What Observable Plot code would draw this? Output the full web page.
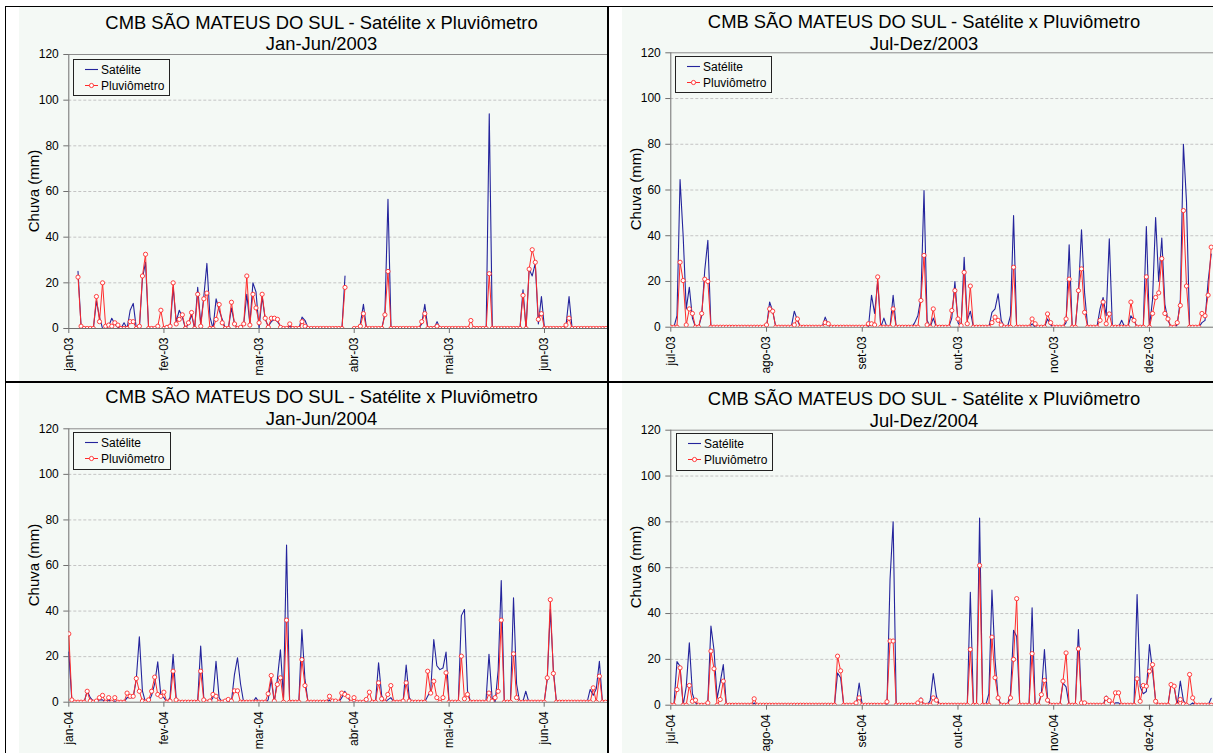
<!DOCTYPE html>
<html><head><meta charset="utf-8">
<script src="https://cdn.jsdelivr.net/npm/d3@7"></script>
<script src="https://cdn.jsdelivr.net/npm/@observablehq/plot@0.6"></script>
<style>
body{margin:0;background:#fff;font-family:Arial,"Liberation Sans",sans-serif;color:#000}
#root{position:relative;width:1213px;height:753px;overflow:hidden;background:#fff}
.area{position:absolute;background:#f4f9f5}
.plot{position:absolute}
.t{position:absolute;white-space:nowrap;font-size:18.4px;line-height:18.4px;transform:translateX(-50%)}
.yl{position:absolute;font-size:15px;line-height:15px;white-space:nowrap;transform:translate(-50%,-50%) rotate(-90deg)}
.leg{position:absolute;border:1px solid #222;box-sizing:border-box;font-size:12px}
.leg .txt{position:absolute;left:27px;line-height:14px;white-space:nowrap}
.leg svg{position:absolute;left:0;top:0}
.bl{position:absolute;background:#000}
</style></head>
<body><div id="root"></div>
<script>
const titleMain = "CMB SÃO MATEUS DO SUL - Satélite x Pluviômetro";
const seriesNames = ["Satélite", "Pluviômetro"];
const yLabel = "Chuva (mm)";
const yTicks = [0, 20, 40, 60, 80, 100, 120];

// ---- Jan-Jun/2003 (daily, index 0 = 1 jan) ----
const sub03a = "Jan-Jun/2003";
const ticks03a = ["jan-03","fev-03","mar-03","abr-03","mai-03","jun-03"];
const sat03a = [
 null,null,null,25,1,0,0,0,0,12,
 5,0,0,1,4.5,2,0.5,0,2.5,0,
 8,11,0,0,22,29,0,0,0,0,
 0,0,0,0,18,3,8,5,0,2,
 6,0,18,2,14,28.5,5,0,13,8,
 4,0,0,9,2,0,0,2,15,2,
 20,16,0,14,4,1,3,4,3,1,
 0,0,1,0,0,0,5,3.5,0,0,
 0,0,0,0,0,0,0,0,0,0,
 23,null,null,0,0,2,10.6,0,0,0,
 0,0,0,6.5,56.6,0,0,0,0,0,
 0,0,0,0,0,2,10.6,0,0,0,
 3,0,0,0,0,0,0,0,0,0,
 0,0,0,0,0,0,0,94,0,0,
 0,0,0,0,0,0,0,0,17,0,
 26,23,28.5,2,14,0,0,0,0,0,
 0,0,1,14,0,0,0,0,0,0,
 0,0,0,0,0,0];
const pluv03a = [
 null,null,null,22.5,1,0,0,0,0,14,
 3,20,1,1.5,1,2.5,1.5,0,0,0,
 3,3,0,1,23,32.5,0,0,0,1,
 8,0,0.5,1,20,2,4,6,0,2.5,
 7,0,15,1,13,15.5,0,0,4,10.5,
 2.5,0,0,11.5,2,0,0.5,2,23,1.5,
 15,9,2.5,15,4.5,0.5,4.5,4.5,4,0.5,
 0,0,2,0,0,0,3,1,0,0,
 0,0,0,0,0,0,0,0,0,0,
 18,null,null,0,0,1,6.5,0,0,0,
 0,0,0,6,25,0,0,0,0,0,
 0,0,0,0,0,3,6.5,0,0,0,
 1,0,0,0,0,0,0,0,0,0,
 0,3.5,0,0,0,0,0,24,0,0,
 0,0,0,0,0,0,0,0,14.5,0,
 26,34.5,29,4,6.5,0,0,0,0,0,
 0,0,1.5,4.5,0,0,0,0,0,0,
 0,0,0,0,0,0];

// ---- Jul-Dez/2003 ----
const sub03b = "Jul-Dez/2003";
const ticks03b = ["jul-03","ago-03","set-03","out-03","nov-03","dez-03"];
const sat03b = [
 0,0,5,64.6,40,8,17.5,4,0,0,
 5,25,38,0,0,0,0,0,0,0,
 0,0,0,0,0,0,0,0,0,0,
 0,0,11,7,0,0,0,0,0,0,
 7,3,0,0,0,0,0,0,0,0,
 4.4,1,0,0,0,0,0,0,0,0,
 0,0,0,0,0,14,6,20,0,4,
 0,0,14,0,0,0,0,0,0,2,
 5,13,59.8,3,0,4,0,0,0,0,
 0,4,20,2,0,30.6,3,7,0,0,
 0,0,0,0,6.5,8,14.6,3,0,0,
 5,48.8,0,0,0,0,0,1.5,0,0,
 0,0,3.6,1,0,0,0,0,2,36,
 0,0,15,42.6,15,0,0,0,0,8,
 13,5,38.7,0,0,0,3,0,0,5,
 3,0,0,0,44,0,12,48,20,39,
 10,3,0,0,1,12,80,55,0,0,
 0,0,2,3,20,32];
const pluv03b = [
 0,0,0,28.4,20.4,1,8,6,0,0,
 6,21,20,0,0,0,0,0,0,0,
 0,0,0,0,0,0,0,0,0,0,
 0,1,8,7,0,0,0,0,0,0,
 1,3.6,0,0,0,0,0,0,0,0,
 2,1.5,0,0,0,0,0,0,0,0,
 0,0,0,0,1.5,1.5,1,22,0,0,
 0,0,8,0,0,0,0,0,0,0,
 0,11.7,31.4,1,0,8,0,0,0,0,
 0,7.3,16,3.6,0.7,24,1.5,18,0,0,
 0,0,0,0,2,4.4,3,1,0,0,
 0,26.2,0,0,0,0,0,3.6,1.5,0,
 0,0,5.8,2,0,0,0,0,3.6,21,
 0,0,16,25.5,6.5,0,0,0,0,3,
 11,1.5,5.8,0,0,0,0,0,0,11,
 3,0,0,0,22,0,6,13,15,30,
 6,3.6,0,0,2,9.5,51,18,0,0,
 0,0,6,5,14,35];

// ---- Jan-Jun/2004 ----
const sub04a = "Jan-Jun/2004";
const ticks04a = ["jan-04","fev-04","mar-04","abr-04","mai-04","jun-04"];
const sat04a = [
 22,0.5,0,0,0,0,5,2,0.5,0,
 1,1,0,1,0,0.5,0,0,0,2,
 2,2,10,28.7,5,0,0,3,8,17.7,
 3,2,0,2,21,2,0,0,0,0,
 0,0,0,24.6,2,0,0,2,18,2,
 0,0,0.5,0,12,19.5,8,0,0,0,
 0,2,0,0,0,1,10,0,10,23,
 2,69,0,0,0,0,31.9,10,0,0,
 0,0,0,0,0,1,0,0,0,2,
 4.8,2,0,0,0,0,0,0,0,0,
 0,17.3,3,0,1,2,0,0,0,0,
 16.3,2,0,0,0,0,0,2.6,5,27.5,
 16,14.3,15,22,0,0,0,0,38,40.7,
 5,0,0,0,0,0,0,21,2,0,
 14,53.4,0,0,0,45.8,8,0,0,4.8,
 0,0,0,0,0,0,10,40.7,14,0,
 0,0,0,0,0,0,0,0,0,0,
 5.6,3,6,18,0,0];
const pluv04a = [
 30,1,0,0,0,0,4.8,0.5,0,0.5,
 2,3,0,2,0,2,0,0,0,4,
 2.6,2.6,10.4,4.8,0.5,0,1,4.8,11,3.4,
 2.6,4.4,0,0.5,13.6,1,0,0,0,0,
 0,0,0,13.6,1,0,0.5,3.4,2.6,0,
 0,0.5,1.2,0.5,5,5,0,0,0,0,
 0,0,0,0,0,3.7,11.7,0.5,7.8,10.7,
 0,36,0,0,0,0,18.7,7.3,0,0,
 0,0,0,0,0,2.6,0.5,0.5,0,4,
 3.4,2.6,0,2,0,0,0,1.2,4.4,0,
 0,8.5,1.5,0,3.4,7.3,0,0,0,0.5,
 8.5,0.5,0,0,0,0,0,13.6,4,9.2,
 2,0,2,12.9,0,0,0,0,20.2,1.5,
 3.4,0,0,0,0,0,0,4,0.5,2,
 4.8,36,0,0,0,21.2,2,0,0,0,
 0,0,0,0,0,0,10.7,45,12.6,0,
 0,0,0,0,0,0,0,0,0,0,
 0,6.3,0,11.4,0,0];

// ---- Jul-Dez/2004 ----
const sub04b = "Jul-Dez/2004";
const ticks04b = ["jul-04","ago-04","set-04","out-04","nov-04","dez-04"];
const sat04b = [
 0,0,19,17,0,8,27.2,5,1,0,
 0,0,2,34.5,24,3,10,17.7,0,0,
 0,0,0,0,0,0,0,1,0,0,
 0,0,0,0,0,0,0,0,0,0,
 0,0,0,0,0,0,0,0,0,0,
 0,0,0,0,14,12,0,0,0,0,
 0,9.7,0,0,0,0,0,0,0,0,
 0,55,80,0,0,0,0,0,0,0,
 0,3.2,0,0,2,13.8,4,0,0,0,
 0,0,0,0,0,0,0,49.3,0,0,
 81.7,0,0,5,50.2,20,3,0,0,0,
 5,32.7,30,0,0,0,0,42.5,0,0,
 5,24.3,3,0,0,0,0,9.7,8,0,
 0,0,33,0,0,0,0,0,0,0,
 0,4,2,0,1,1,0,0,0,0,
 0,48.3,8,5,6,26.5,15,2,0,0,
 0,0,9.3,8,0,10.5,2,0,0,1,
 0,0,0,0,0,3];
const pluv04b = [
 0,0,6.8,16.3,0,0,8.6,1.7,2.2,0,
 0,0,1,23.6,15.9,0,2.5,10.5,0,0,
 0,0,0,0,0,0,0,2.8,0,0,
 0,0,0,0,0,0,0,0,0,0,
 0,0,0,0,0,0,0,0,0,0,
 0,0,0,0,21.4,15,0,0,0,0,
 1,3.2,0,0,0,0,0,0,0,0,
 1.5,28,28,0,0,0,0,0,0,0,
 1,2.2,0,0,0,3.2,2.2,0,0,0,
 0,0,0,0,0,0,0,24.3,0,0,
 61,0,0,0,29.7,12,3.2,0,0,0,
 3.2,20,46.5,0,0,0,0,22.5,0,0,
 4.6,10.8,2.2,0,0,0,0,10.5,22.8,0,
 0,0,24.6,1,1,0,0,0,0,0,
 0,3,2,0.5,5.4,5.4,0,0,0,0,
 0,11.5,1.7,8.6,8.3,14.8,17.7,1.7,0,0,
 0,0,9,8.3,0,2.5,0.5,0,13.4,3.2,
 0,0,0,0,0,0];

const BLUE = "#24249c", RED = "#ff2b2b";
const TICK_EVERY = 31; // Excel category-axis label interval (days)

const panels = [
  {sat: sat03a, pluv: pluv03a, ticks: ticks03a, sub: sub03a,
   L: {left:19, top:7, w:588, h:374, ml:49.3, mt:47, mb:53, ppd:3.069, tx:321.5, t1:14, t2:35, leg:[73,59,97,37], yl:[33,191]}},
  {sat: sat03b, pluv: pluv03b, ticks: ticks03b, sub: sub03b,
   L: {left:622, top:7, w:591, h:374, ml:48.3, mt:45.3, mb:54.3, ppd:3.088, tx:924, t1:12.8, t2:35, leg:[675,56,97,37], yl:[634.5,189]}},
  {sat: sat04a, pluv: pluv04a, ticks: ticks04a, sub: sub04a,
   L: {left:19, top:383, w:588, h:370, ml:49.3, mt:45.3, mb:51.3, ppd:3.067, tx:321.5, t1:388, t2:410, leg:[73,432,98,38], yl:[33,565]}},
  {sat: sat04b, pluv: pluv04b, ticks: ticks04b, sub: sub04b,
   L: {left:622, top:383, w:591, h:370, ml:48.3, mt:46.7, mb:48.3, ppd:3.088, tx:924, t1:390, t2:412, leg:[676,433,97,38], yl:[635,567]}}
];

const root = document.getElementById("root");
function el(cls, css, text) {
  const d = document.createElement("div");
  d.className = cls;
  for (const k in css) d.style[k] = typeof css[k] === "number" ? css[k] + "px" : css[k];
  if (text != null) d.textContent = text;
  root.appendChild(d);
  return d;
}

for (const p of panels) {
  const L = p.L;
  el("area", {left: L.left, top: L.top, width: L.w, height: L.h});
  const rows = p.sat.map((s, i) => ({i, sat: s, pluv: p.pluv[i]}));
  const xMax = (L.w - L.ml) / L.ppd;
  const tickPos = p.ticks.map((_, k) => k * TICK_EVERY);
  const chart = Plot.plot({
    width: L.w, height: L.h,
    marginLeft: L.ml, marginRight: 0, marginTop: L.mt, marginBottom: L.mb,
    style: {background: "transparent", fontFamily: 'Arial, "Liberation Sans", sans-serif', fontSize: "12px", color: "#000", overflow: "visible"},
    x: {domain: [0, xMax]},
    y: {domain: [0, 120]},
    marks: [
      Plot.ruleY([20, 40, 60, 80, 100], {stroke: "#c4c4c4", strokeDasharray: "3,2"}),
      Plot.ruleY([120], {stroke: "#8c8c8c"}),
      Plot.axisY({ticks: yTicks, tickSize: 5, tickPadding: 5, stroke: "#707070", fill: "#000", fontSize: 12, label: null}),
      Plot.axisX({ticks: tickPos, tickFormat: d => p.ticks[Math.round(d / TICK_EVERY)], tickRotate: -90, tickSize: 5, tickPadding: 4, stroke: "#707070", fill: "#000", fontSize: 12, label: null}),
      Plot.ruleX([0], {stroke: "#707070"}),
      Plot.ruleY([0], {stroke: "#707070"}),
      Plot.line(rows, {x: "i", y: "sat", stroke: BLUE, strokeWidth: 1.1, clip: true}),
      Plot.line(rows, {x: "i", y: "pluv", stroke: RED, strokeWidth: 1, clip: true}),
      Plot.dot(rows, {x: "i", y: "pluv", r: 2.1, stroke: RED, strokeWidth: 0.9, fill: "white", clip: true})
    ]
  });
  chart.classList.add("plot");
  chart.style.left = L.left + "px";
  chart.style.top = L.top + "px";
  root.appendChild(chart);

  el("t", {left: L.tx, top: L.t1}, titleMain);
  el("t", {left: L.tx, top: L.t2}, p.sub);
  el("yl", {left: L.yl[0], top: L.yl[1]}, yLabel);

  const leg = el("leg", {left: L.leg[0], top: L.leg[1], width: L.leg[2], height: L.leg[3]});
  const ns = "http://www.w3.org/2000/svg";
  const sw = document.createElementNS(ns, "svg");
  sw.setAttribute("width", 27); sw.setAttribute("height", L.leg[3]);
  sw.innerHTML = `<line x1="11" x2="24" y1="9.5" y2="9.5" stroke="${BLUE}" stroke-width="1.1"/>
    <line x1="11" x2="24" y1="25.5" y2="25.5" stroke="${RED}" stroke-width="1"/>
    <circle cx="17.5" cy="25.5" r="2.1" fill="white" stroke="${RED}" stroke-width="0.9"/>`;
  leg.appendChild(sw);
  const a = document.createElement("div"); a.className = "txt"; a.style.top = "2.5px"; a.textContent = seriesNames[0]; leg.appendChild(a);
  const b = document.createElement("div"); b.className = "txt"; b.style.top = "19px"; b.textContent = seriesNames[1]; leg.appendChild(b);
}

// panel frame lines
el("bl", {left: 5, top: 6, width: 1208, height: 1});
el("bl", {left: 5, top: 6, width: 1, height: 747});
el("bl", {left: 607, top: 6, width: 2, height: 747});
el("bl", {left: 5, top: 381, width: 1208, height: 2});
</script>
</body></html>
